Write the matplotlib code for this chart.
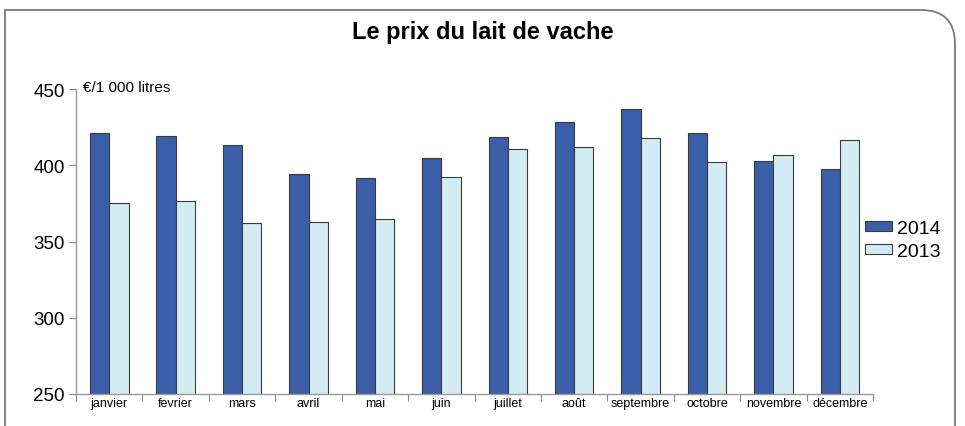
import numpy as np
import matplotlib
matplotlib.use("Agg")
import matplotlib.pyplot as plt
from matplotlib.path import Path
from matplotlib.patches import PathPatch

plt.rcParams['font.family'] = ['Liberation Sans', 'DejaVu Sans']

# data
months = ['janvier', 'fevrier', 'mars', 'avril', 'mai', 'juin', 'juillet',
          'août', 'septembre', 'octobre', 'novembre', 'décembre']
prix_2014 = [421, 419.5, 413, 394, 391.5, 404.5, 418.5, 428.5, 437, 421.5, 403, 397.5]
prix_2013 = [375, 376.5, 362, 363, 365, 392.5, 411, 412, 418, 402, 406.5, 416.5]

dark = '#3B5EA9'
light = '#D3EBF2'
edge = '#3a3a3a'

fig = plt.figure(figsize=(9.65, 4.27), dpi=100)
ax = fig.add_axes([0.0788, 0.075, 0.826, 0.714])

x = np.arange(len(months))
w = 0.29
ax.bar(x - w / 2, prix_2014, w, color=dark, edgecolor=edge, linewidth=0.8, label='2014')
ax.bar(x + w / 2, prix_2013, w, color=light, edgecolor=edge, linewidth=0.8, label='2013')

ax.set_xlim(-0.5, len(months) - 0.5)
ax.set_ylim(250, 450)
ax.set_yticks([250, 300, 350, 400, 450])
ax.tick_params(axis='y', labelsize=13.5, length=5, color='#888888', direction='out', pad=3)

# category boundaries as ticks, labels centred in between
ax.set_xticks(np.arange(len(months) + 1) - 0.5)
ax.set_xticklabels([])
ax.set_xticks(x, minor=True)
ax.set_xticklabels(months, minor=True, fontsize=9)
ax.tick_params(axis='x', which='major', length=5, color='#888888')
ax.tick_params(axis='x', which='minor', length=0, pad=2)

for s in ['top', 'right']:
    ax.spines[s].set_visible(False)
for s in ['left', 'bottom']:
    ax.spines[s].set_color('#999999')
    ax.spines[s].set_linewidth(1.0)

ax.text(0.009, 0.985, '€/1 000 litres', transform=ax.transAxes, fontsize=11, va='bottom', ha='left')

ax.legend(loc='center left', bbox_to_anchor=(0.99, 0.505), frameon=False, fontsize=14,
          handlelength=1.4, handleheight=0.36, handletextpad=0.25, borderaxespad=0,
          borderpad=0, labelspacing=0.3)

fig.text(0.5, 0.925, 'Le prix du lait de vache', ha='center', va='center',
         fontsize=17, fontweight='bold')

# frame with rounded top-right corner, open at the bottom
W, H = 965, 427
left, top, right, r = 5, 427 - 11, 955, 34
verts = [(left, -5), (left, top), (right - r, top), (right, top), (right, top - r), (right, -5)]
codes = [Path.MOVETO, Path.LINETO, Path.LINETO, Path.CURVE3, Path.CURVE3, Path.LINETO]
verts = [(vx / W, vy / H) for vx, vy in verts]
frame = PathPatch(Path(verts, codes), transform=fig.transFigure, fill=False,
                  edgecolor='#7a7a7a', linewidth=1.3)
fig.patches.append(frame)

fig.savefig('out.png', dpi=100)
